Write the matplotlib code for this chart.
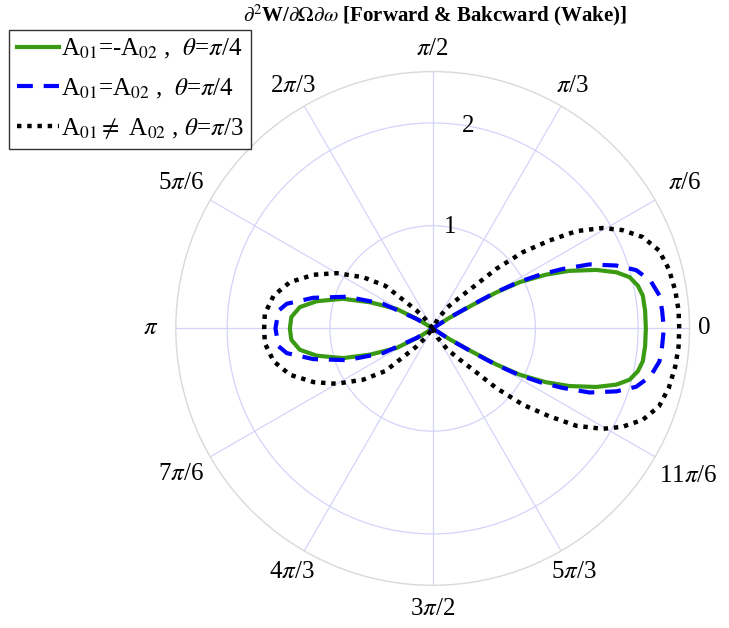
import numpy as np
import matplotlib
matplotlib.use("Agg")
import matplotlib.pyplot as plt

plt.rcParams['font.family'] = ['Liberation Serif', 'DejaVu Serif']
plt.rcParams['mathtext.fontset'] = 'stix'

# ---- data (upper halves; curves are symmetric about 0/pi axis) ----
# right lobe: angle (deg), radius
green_right_ang = [0, 4.8, 8.9, 11.8, 14.6, 17.0, 19.7, 22.9, 25.4, 28.0, 29.5, 30.5, 32.5, 35.0]
green_right_r   = [2.075, 2.075, 2.07, 2.04, 1.98, 1.87, 1.69, 1.44, 1.22, 0.96, 0.71, 0.45, 0.19, 0.0]
green_left_ang  = [180, 175.4, 170.9, 166.8, 161.7, 157.3, 151.6, 148.0, 145.0]
green_left_r    = [1.39, 1.38, 1.31, 1.16, 0.92, 0.66, 0.40, 0.15, 0.0]

blue_right_ang = [0, 4.5, 8.3, 12.4, 16.0, 18.9, 22.2, 24.6, 26.5, 28.3, 29.8, 30.8, 32.8, 35.5]
blue_right_r   = [2.25, 2.24, 2.23, 2.17, 2.06, 1.89, 1.65, 1.39, 1.18, 0.96, 0.71, 0.45, 0.19, 0.0]
blue_left_ang  = [180, 173.4, 170.4, 165.6, 159.7, 153.6, 149.4, 145.0]
blue_left_r    = [1.53, 1.51, 1.44, 1.20, 0.89, 0.54, 0.18, 0.0]

black_right_ang = [0, 4.2, 8.9, 14.1, 19.0, 23.5, 27.4, 30.6, 34.1, 37.0, 40.2, 43.1, 45.7, 49.0, 55.0, 62.0, 68.0]
black_right_r   = [2.40, 2.40, 2.39, 2.37, 2.33, 2.23, 2.08, 1.92, 1.69, 1.42, 1.15, 0.85, 0.56, 0.40, 0.25, 0.10, 0.0]
black_left_ang  = [180, 175, 168.3, 162, 155.7, 150.1, 143.6, 138, 132, 128, 120]
black_left_r    = [1.64, 1.64, 1.58, 1.46, 1.27, 1.08, 0.84, 0.62, 0.24, 0.12, 0.0]

labels = [r'A$_{01}$=-A$_{02}$ ,  $\theta$=$\pi$/4',
          r'A$_{01}$=A$_{02}$ ,  $\theta$=$\pi$/4',
          r'A$_{01}$$\neq$ A$_{02}$ , $\theta$=$\pi$/3']

theta_labels = ['0', r'$\pi$/6', r'$\pi$/3', r'$\pi$/2', r'2$\pi$/3', r'5$\pi$/6', r'$\pi$',
                r'7$\pi$/6', r'4$\pi$/3', r'3$\pi$/2', r'5$\pi$/3', r'11$\pi$/6']
r_ticks = [1, 2]
r_max = 2.5


def full_curve(ra, rr, la, lr):
    ra = np.asarray(ra, float); rr = np.asarray(rr, float)
    la = np.asarray(la, float); lr = np.asarray(lr, float)
    th_r = np.concatenate([-ra[::-1], ra[1:]])
    r_r = np.concatenate([rr[::-1], rr[1:]])
    th_l = np.concatenate([la[::-1], 360 - la[1:]])
    r_l = np.concatenate([lr[::-1], lr[1:]])
    th = np.concatenate([th_r, th_l, [360 - ra[-1]]])
    r = np.concatenate([r_r, r_l, [0.0]])
    return np.deg2rad(th), r


fig = plt.figure(figsize=(7.29, 6.28), dpi=100)
ax = fig.add_axes([0.241, 0.068, 0.705, 0.818], projection='polar')

grid_col = '#d4d4fb'
ax.set_ylim(0, r_max)
ax.set_yticks(r_ticks)
ax.set_yticklabels([])
ax.set_xticks(np.deg2rad(np.arange(0, 360, 30)))
ax.set_xticklabels([])
ax.grid(True, color=grid_col, linewidth=0.9)
ax.spines['polar'].set_color('#d9d9d9')
ax.spines['polar'].set_linewidth(1.0)

# theta labels
label_r = {0: 2.64, 30: 2.83, 60: 2.72, 90: 2.72, 120: 2.72, 150: 2.83, 180: 2.74,
           210: 2.83, 240: 2.74, 270: 2.73, 300: 2.74, 330: 2.87}
for ang, lab in zip(np.arange(0, 360, 30), theta_labels):
    ax.text(np.deg2rad(ang), label_r[int(ang)], lab, ha='center', va='center', fontsize=18)

# radial labels
for t in r_ticks:
    ax.text(np.deg2rad(80), t, str(t), ha='center', va='center', fontsize=18)

th, r = full_curve(green_right_ang, green_right_r, green_left_ang, green_left_r)
l1, = ax.plot(th, r, color='#3a9a14', lw=3.0, label=labels[0])
th, r = full_curve(blue_right_ang, blue_right_r, blue_left_ang, blue_left_r)
l2, = ax.plot(th, r, color='#0000ff', lw=3.0, linestyle=(0, (3.8, 2.6)), label=labels[1])
th, r = full_curve(black_right_ang, black_right_r, black_left_ang, black_left_r)
l3, = ax.plot(th, r, color='black', lw=3.2, linestyle=(0, (1, 1.3)), label=labels[2])

leg = fig.legend(handles=[l1, l2, l3], loc='upper left', bbox_to_anchor=(0.013, 0.953),
                 fontsize=18, frameon=True, fancybox=False, edgecolor='black',
                 handlelength=1.7, handletextpad=0.05, borderpad=0.3, labelspacing=0.62,
                 borderaxespad=0)
leg.get_frame().set_linewidth(1.0)

fig.text(0.597, 0.976, r'$\partial^2$W/$\partial\Omega\partial\omega$ [Forward & Bakcward (Wake)]',
         ha='center', va='center', fontsize=15, fontweight='bold')

fig.savefig('out.png', dpi=100)
